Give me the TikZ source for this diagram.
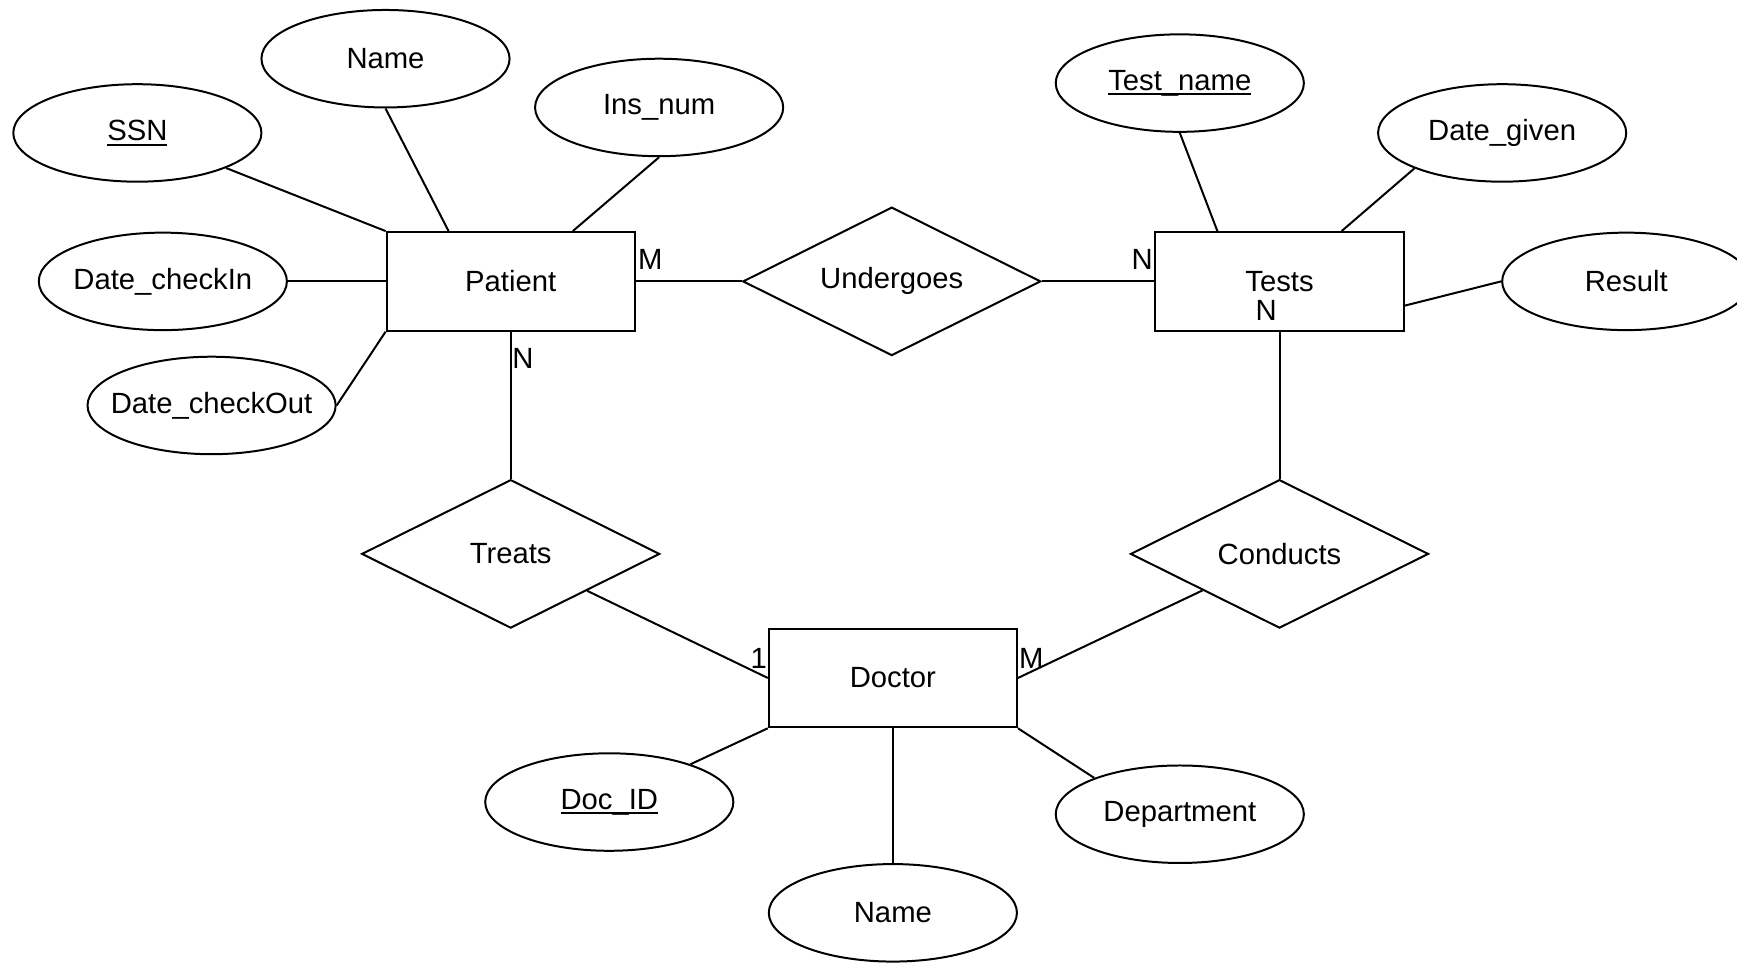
\documentclass[tikz,border=0pt]{standalone}
\usepackage{fontspec}
\setmainfont{Liberation Sans}
\usetikzlibrary{shapes.geometric}
\newcommand\keyattr[1]{\setbox0\hbox{#1}\rlap{\rule[-2.2pt]{\wd0}{0.9pt}}\box0}

\begin{document}
\begin{tikzpicture}[x=0.5pt,y=-0.5pt,line width=0.9pt,
  every node/.style={font=\fontsize{13.2}{15}\selectfont},
  entity/.style={draw,rectangle,minimum width=112pt,minimum height=44.5pt,inner sep=0pt},
  attr/.style={draw,ellipse,minimum width=112pt,minimum height=44pt,inner sep=-12pt},
  rel/.style={draw,diamond,aspect=2,minimum width=134.5pt,minimum height=67pt,inner sep=0pt},
  card/.style={inner sep=1pt}]
\useasboundingbox (0,0) rectangle (1568,869);

% entities and relationships
\node[entity] (patient) at (461,254) {Patient};
\node[entity] (tests) at (1155,254) {Tests};
\node[entity] (doctor) at (806,612) {Doctor};
\node[rel] (undergoes) at (805,254) {Undergoes};
\node[rel] (treats) at (461,500) {Treats};
\node[rel] (conducts) at (1155,500) {Conducts};

% attributes
\node[attr] (ssn) at (124,120) {\keyattr{SSN}};
\node[attr] (pname) at (348,53) {Name};
\node[attr] (insnum) at (595,97) {Ins\_num};
\node[attr] (checkin) at (147,254) {Date\_checkIn};
\node[attr] (checkout) at (191,366) {Date\_checkOut};
\node[attr] (testname) at (1065,75) {\keyattr{Test\_name}};
\node[attr] (dategiven) at (1356,120) {Date\_given};
\node[attr] (result) at (1468,254) {Result};
\node[attr] (docid) at (550,724) {\keyattr{Doc\_ID}};
\node[attr] (dname) at (806,824) {Name};
\node[attr] (dept) at (1065,735) {Department};

% attribute links
\draw (ssn) -- (patient.north west);
\draw (pname.south) -- (patient.141);
\draw (insnum.south) -- (patient.39);
\draw (checkin) -- (patient.west);
\draw (checkout.east) -- (patient.south west);
\draw (testname.south) -- (tests.141);
\draw (dategiven.202) -- (tests.39);
\draw (tests.-11) -- (result.west);
\draw (docid) -- (doctor.south west);
\draw (dname.north) -- (doctor.south);
\draw (dept.157) -- (doctor.south east);

% relationship links
\draw (patient.east) -- (undergoes.west);
\draw (undergoes.east) -- (tests.west);
\draw (patient.south) -- (treats.north);
\draw (tests.south) -- (conducts.north);
\draw (treats) -- (doctor.west);
\draw (conducts) -- (doctor.east);

% cardinalities
\node[card] (cpm) at (587,234) {M};
\node[card] (ctn) at (1031,234) {N};
\node[card] (ctn2) at (1143,280) {N};
\node[card] (cpn) at (472,324) {N};
\node[card] (cd1) at (685,594) {1};
\node[card] (cdm) at (931,594) {M};
\end{tikzpicture}
\end{document}
